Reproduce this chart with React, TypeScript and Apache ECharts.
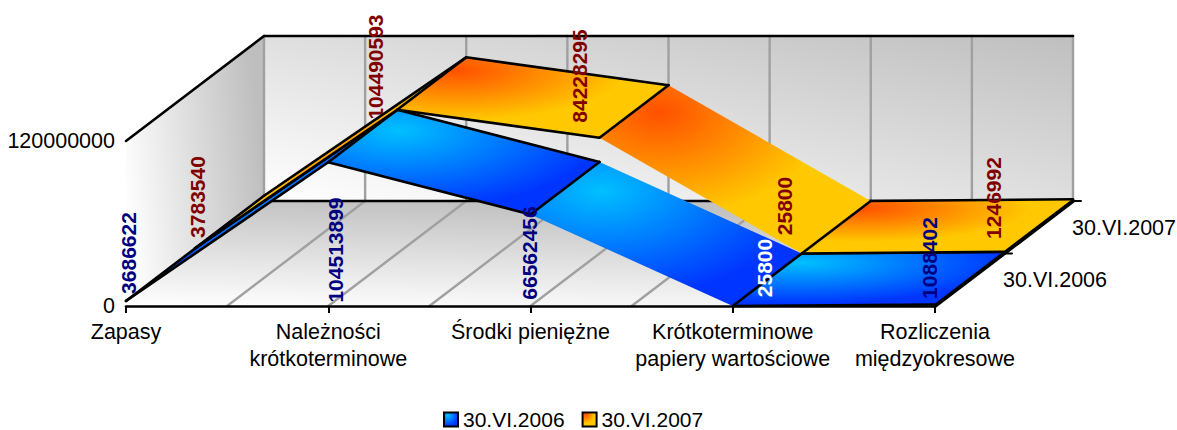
import React, { useEffect, useRef } from "react";
import * as echarts from "echarts";

const categories = [
  "Zapasy",
  "Należności\nkrótkoterminowe",
  "Środki pieniężne",
  "Krótkoterminowe\npapiery wartościowe",
  "Rozliczenia\nmiędzyokresowe",
];
const seriesNames = ["30.VI.2006", "30.VI.2007"];
const values2006 = [3686622, 104513899, 66562456, 25800, 1088402];
const values2007 = [3783540, 104490593, 84228295, 25800, 1246992];
const axisMax = 120000000;

const FONT = '"Liberation Sans", Arial, sans-serif';
const FS = 21.5;
const FS_SMALL = 21;
const DEPTH = [69, -52.5];
const BLACK_W = 2.6;
const outlined = [true, true, false, true];
const labelOffsets2006 = [[2, -53], [7, -56], [-1, -53], [32, -38], [-6, -48]];
const labelOffsets2007 = [[2, -56.5], [-22, -186.5], [-20, -177.5], [-17, -47.5], [-11, -55.5]];
const labelColors2006 = ["#000080", "#000080", "#000080", "#ffffff", "#000080"];
const labelColors2007 = ["#800000", "#800000", "#800000", "#800000", "#800000"];

const fills = [
  () =>
    new echarts.graphic.RadialGradient(0.26, 0.2, 0.76, [
      { offset: 0, color: "#00C0FF" },
      { offset: 1, color: "#0034FF" },
    ]),
  () =>
    new echarts.graphic.RadialGradient(0.22, 0.16, 0.62, [
      { offset: 0, color: "#FF5000" },
      { offset: 1, color: "#FFC800" },
    ]),
];

const add = (p: number[], s: number, dx = 0, dy = 0) => [
  p[0] + DEPTH[0] * s + dx,
  p[1] + DEPTH[1] * s + dy,
];
const line = (a: number[], b: number[], stroke: string, lineWidth: number, z2: number) => ({
  type: "line",
  z2,
  shape: { x1: a[0], y1: a[1], x2: b[0], y2: b[1] },
  style: { stroke, lineWidth, fill: null, lineCap: "round" },
});
const poly = (points: number[][], fill: any, z2: number) => ({
  type: "polygon",
  z2,
  shape: { points },
  style: { fill, stroke: null },
});
const linear = (x: number, y: number, x2: number, y2: number, from: string, to: string) =>
  new echarts.graphic.LinearGradient(x, y, x2, y2, [
    { offset: 0, color: from },
    { offset: 1, color: to },
  ]);

function renderFrame(_: any, api: any) {
  const last = categories.length - 1;
  const o = api.coord([0, 0]);
  const t = api.coord([0, axisMax]);
  const e = api.coord([last, 0]);
  const et = api.coord([last, axisMax]);
  const n = seriesNames.length;
  const children: any[] = [
    poly([o, t, add(t, n), add(o, n)], linear(0, 0.7, 1, 0.5, "#FFFFFF", "#BEBEBE"), 0),
    poly([add(o, n), add(t, n), add(et, n), add(e, n)], linear(0, 1, 1, 0, "#FFFFFF", "#BFBFBF"), 0),
    poly([o, add(o, n), add(e, n), e], linear(0, 1, 0.25, 0, "#FFFFFF", "#C2C2C2"), 0),
  ];
  for (let i = 0; i <= last * 2; i++) {
    const a = api.coord([Math.floor(i / 2), 0]);
    const b = api.coord([Math.ceil(i / 2), 0]);
    const front = [(a[0] + b[0]) / 2, a[1]];
    const back = add(front, n);
    const top = [back[0], add(t, n)[1]];
    children.push(line(back, top, "#A0A0A0", 2.4, 1));
    if (i > 0) children.push(line(front, back, "#A0A0A0", 2.4, 1));
  }
  children.push(line(t, add(t, n), "#000", BLACK_W, 2));
  children.push(line(add(t, n), add(et, n), "#000", BLACK_W, 2));
  children.push(line(add(o, n), add(e, n), "#000", BLACK_W, 2));
  children.push(line(e, add(e, n), "#000", 4, 30));
  seriesNames.forEach((name, s) => {
    const p = add(e, s + 1);
    children.push(line(p, [p[0] + 8, p[1]], "#000", 2, 30));
    children.push({
      type: "text",
      z2: 30,
      x: p[0] - 1,
      y: p[1] + 26.5,
      style: { text: name, fill: "#000", fontSize: FS, fontFamily: FONT, align: "left", verticalAlign: "middle" },
    });
  });
  return { type: "group", children };
}

const renderRibbon = (values: number[], s: number) => (params: any, api: any) => {
  const i = params.dataIndex;
  const children: any[] = [];
  const base = (s + 1) * 10;
  if (i < values.length - 1) {
    const a = add(api.coord([i, values[i]]), s);
    const b = add(api.coord([i + 1, values[i + 1]]), s);
    const a2 = add(a, 1);
    const b2 = add(b, 1);
    children.push(poly([a, a2, b2, b], fills[s](), base + (values.length - i)));
    children.push(line(a, a2, "#000", BLACK_W, base + 8));
    if (outlined[i]) {
      children.push(line(a, b, "#000", BLACK_W, base + 8));
      children.push(line(a2, b2, "#000", BLACK_W, base + 8));
    }
  }
  return { type: "group", children };
};

const renderLabels = (values: number[], s: number, offsets: number[][], colors: string[]) => (params: any, api: any) => {
  const i = params.dataIndex;
  const p = add(api.coord([i, 0]), s, offsets[i][0], offsets[i][1]);
  const hidden = offsets[i][1] < -180 && offsets[i][0] < -21;
  return {
    type: "text",
    z2: hidden ? 5 : 60,
    x: p[0],
    y: p[1],
    rotation: Math.PI / 2,
    style: {
      text: String(values[i]),
      fill: colors[i],
      fontSize: FS_SMALL,
      fontWeight: "bold",
      fontFamily: FONT,
      align: "center",
      verticalAlign: "middle",
    },
  };
};

const points = (values: number[]) => values.map((v, i) => [i, v]);

export default function App() {
  const ref = useRef<HTMLDivElement>(null);
  useEffect(() => {
    document.body.style.margin = "0";
    const chart = echarts.init(ref.current!, undefined, { renderer: "svg" });
    const base = { type: "custom", coordinateSystem: "cartesian2d", clip: false, silent: true, z: 2, encode: { x: 0, y: 1 } };
    chart.setOption({
      animation: false,
      backgroundColor: "#fff",
      grid: { left: 126, right: 242, top: 141, bottom: 124 },
      legend: {
        left: 443,
        top: 409,
        selectedMode: false,
        data: seriesNames,
        icon: "rect",
        itemWidth: 14,
        itemHeight: 14,
        itemGap: 17,
        padding: 0,
        textStyle: { fontSize: FS_SMALL, fontFamily: FONT, color: "#000" },
      },
      xAxis: {
        type: "category",
        data: categories,
        boundaryGap: false,
        axisLine: { lineStyle: { color: "#000", width: BLACK_W } },
        axisTick: { show: true, length: 7, lineStyle: { color: "#000", width: 2 } },
        axisLabel: { interval: 0, margin: 12, fontSize: FS, lineHeight: 27.5, fontFamily: FONT, color: "#000", hideOverlap: false },
        splitLine: { show: false },
        z: 40,
      },
      yAxis: {
        type: "value",
        min: 0,
        max: axisMax,
        interval: axisMax,
        axisLine: { show: false },
        axisTick: { show: false },
        splitLine: { show: false },
        axisLabel: { margin: 11, fontSize: FS, fontFamily: FONT, color: "#000", formatter: (v: number) => String(v) },
      },
      series: [
        { ...base, data: [[0, 0]], renderItem: renderFrame },
        {
          ...base,
          name: seriesNames[0],
          data: points(values2006),
          renderItem: renderRibbon(values2006, 0),
          itemStyle: { color: fills[0](), borderColor: "#000", borderWidth: 2 },
        },
        {
          ...base,
          name: seriesNames[1],
          data: points(values2007),
          renderItem: renderRibbon(values2007, 1),
          itemStyle: { color: fills[1](), borderColor: "#000", borderWidth: 2 },
        },
        { ...base, data: points(values2006), renderItem: renderLabels(values2006, 0, labelOffsets2006, labelColors2006) },
        { ...base, data: points(values2007), renderItem: renderLabels(values2007, 1, labelOffsets2007, labelColors2007) },
      ],
    });
    return () => chart.dispose();
  }, []);
  return <div ref={ref} style={{ width: 1177, height: 430 }} />;
}
